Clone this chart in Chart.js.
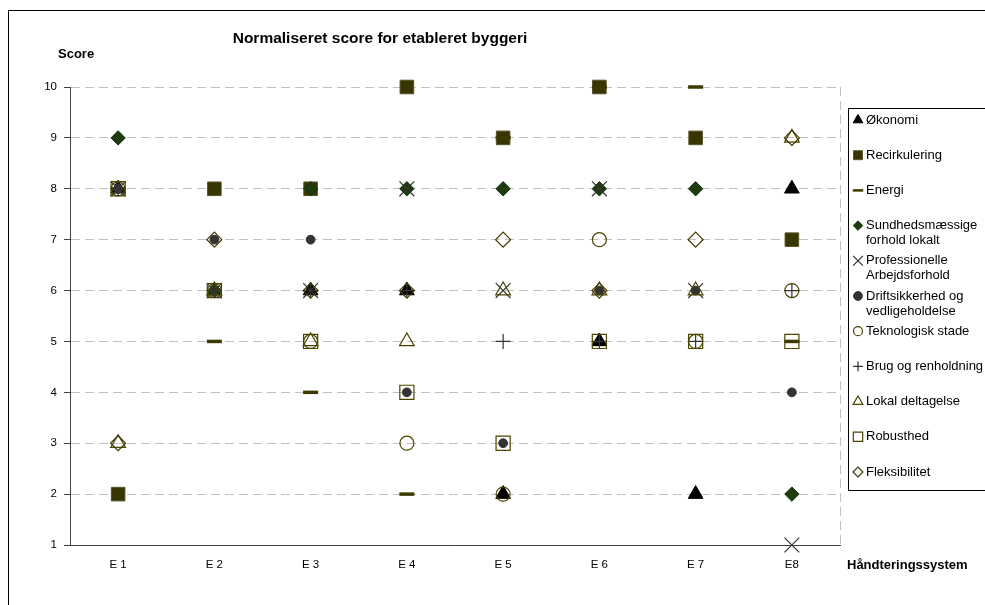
<!DOCTYPE html>
<html>
<head>
<meta charset="utf-8">
<script src="https://cdn.jsdelivr.net/npm/chart.js@4/dist/chart.umd.min.js"></script>
<style>
  html, body { margin: 0; padding: 0; background: #ffffff; }
  #wrap { width: 985px; height: 605px; position: relative; }
</style>
</head>
<body>
<div id="wrap"><canvas id="c" width="985" height="605"></canvas></div>
<script>
// Handling systems on the x axis
const categories = ['E 1', 'E 2', 'E 3', 'E 4', 'E 5', 'E 6', 'E 7', 'E8'];

// Normalised score per criterion, one value per handling system
const okonomi        = [8, 6, 6, 6, 2, 5, 2, 8];
const recirkulering  = [2, 8, 8, 10, 9, 10, 9, 7];
const energi         = [8, 5, 4, 2, 9, 10, 10, 5];
const sundhed        = [9, 6, 8, 8, 8, 8, 8, 2];
const professionelle = [8, 6, 6, 8, 6, 8, 6, 1];
const driftsikkerhed = [8, 7, 7, 4, 3, 6, 6, 4];
const teknologisk    = [8, 6, 5, 3, 2, 7, 5, 6];
const brug           = [8, 6, 6, 6, 5, 5, 5, 6];
const lokal          = [3, 6, 5, 5, 6, 6, 6, 9];
const robusthed      = [8, 6, 5, 4, 3, 5, 5, 5];
const fleksibilitet  = [3, 7, 6, 6, 7, 6, 7, 9];

// Axis range and tick labels
const yMin = 1;
const yMax = 10;
const yTickStep = 1;

const FONT = "'Liberation Sans', Arial, sans-serif";

// Marker look for every criterion
const series = [
  { label: ['Økonomi'], data: okonomi, style: 'triangle', r: 8.5, bg: '#000000', bc: '#000000', bw: 1 },
  { label: ['Recirkulering'], data: recirkulering, style: 'rect', r: 9.6, bg: '#383500', bc: '#55532a', bw: 1 },
  { label: ['Energi'], data: energi, style: 'line', r: 7.5, bg: '#3d3a00', bc: '#3d3a00', bw: 3.5 },
  { label: ['Sundhedsmæssige', 'forhold lokalt'], data: sundhed, style: 'rectRot', r: 7.2, bg: '#1f3a0c', bc: '#0f3a0f', bw: 1 },
  { label: ['Professionelle', 'Arbejdsforhold'], data: professionelle, style: 'crossRot', r: 10.5, bg: 'rgba(0,0,0,0)', bc: '#333333', bw: 1.2 },
  { label: ['Driftsikkerhed og', 'vedligeholdelse'], data: driftsikkerhed, style: 'circle', r: 4.4, bg: '#333333', bc: '#333333', bw: 1 },
  { label: ['Teknologisk stade'], data: teknologisk, style: 'circle', r: 7, bg: 'rgba(0,0,0,0)', bc: '#4a4500', bw: 1.2 },
  { label: ['Brug og renholdning'], data: brug, style: 'cross', r: 7.5, bg: 'rgba(0,0,0,0)', bc: '#333333', bw: 1.2 },
  { label: ['Lokal deltagelse'], data: lokal, style: 'triangle', r: 8.5, bg: 'rgba(0,0,0,0)', bc: '#4a4500', bw: 1.2 },
  { label: ['Robusthed'], data: robusthed, style: 'rect', r: 10, bg: 'rgba(0,0,0,0)', bc: '#4a4500', bw: 1.2 },
  { label: ['Fleksibilitet'], data: fleksibilitet, style: 'rectRot', r: 7.5, bg: 'rgba(0,0,0,0)', bc: '#3d3a00', bw: 1.2 }
];

const datasets = series.map((s, i) => ({
  label: s.label.join(' '),
  legendLines: s.label,
  data: s.data,
  showLine: false,
  order: -i,
  clip: false,
  pointStyle: s.style,
  pointRadius: s.r,
  pointHoverRadius: s.r,
  pointBackgroundColor: s.bg,
  pointBorderColor: s.bc,
  pointBorderWidth: s.bw,
  pointHoverBorderWidth: s.bw,
  backgroundColor: s.bg,
  borderColor: s.bc
}));

// Frame, titles, plot border and legend box
const decorations = {
  id: 'decorations',
  beforeDraw(chart) {
    const ctx = chart.ctx;
    ctx.save();
    ctx.fillStyle = '#ffffff';
    ctx.fillRect(0, 0, chart.width, chart.height);
    ctx.strokeStyle = '#000000';
    ctx.lineWidth = 1;
    ctx.strokeRect(8.5, 10.5, chart.width + 20, chart.height + 20);
    ctx.restore();
  },
  beforeDatasetsDraw(chart) {
    const ctx = chart.ctx;
    const a = chart.chartArea;
    ctx.save();
    ctx.strokeStyle = '#c0c0c0';
    ctx.lineWidth = 1;
    ctx.setLineDash([9, 5]);
    ctx.beginPath();
    ctx.moveTo(Math.round(a.right) + 0.5, a.top);
    ctx.lineTo(Math.round(a.right) + 0.5, a.bottom);
    ctx.stroke();
    ctx.restore();
  },
  afterDraw(chart) {
    const ctx = chart.ctx;
    const a = chart.chartArea;
    ctx.save();
    ctx.fillStyle = '#000000';
    ctx.textBaseline = 'alphabetic';

    ctx.font = 'bold 15.5px ' + FONT;
    ctx.textAlign = 'center';
    ctx.fillText('Normaliseret score for etableret byggeri', 380, 43);

    ctx.font = 'bold 13px ' + FONT;
    ctx.textAlign = 'left';
    ctx.fillText('Score', 58, 58);
    ctx.fillText('Håndteringssystem', a.right + 7, 569);

    // legend
    const boxLeft = 848.5, boxTop = 108.5, boxBottom = 490.5;
    ctx.strokeStyle = '#000000';
    ctx.lineWidth = 1;
    ctx.strokeRect(boxLeft, boxTop, 300, boxBottom - boxTop);

    const rowStart = 120;
    const rowStep = 35.2;
    ctx.font = '13px ' + FONT;
    chart.data.datasets.forEach((ds, i) => {
      const y = rowStart + i * rowStep;
      const mx = 858;
      ctx.save();
      ctx.fillStyle = ds.pointBackgroundColor;
      ctx.strokeStyle = ds.pointBorderColor;
      ctx.lineWidth = ds.pointStyle === 'line' ? 2.5 : ds.pointBorderWidth;
      const scale = ds.pointStyle === 'circle' && ds.pointRadius < 5 ? 1.0 : 0.66;
      let r = ds.pointRadius * scale;
      if (ds.pointStyle === 'circle' && ds.pointRadius >= 5) r = 4.5;
      if (ds.pointStyle === 'line') r = 5.2;
      Chart.helpers.drawPoint(ctx, {
        pointStyle: ds.pointStyle,
        radius: r,
        rotation: 0,
        borderWidth: ctx.lineWidth
      }, mx, y);
      ctx.restore();
      ctx.fillStyle = '#000000';
      ctx.textAlign = 'left';
      ctx.textBaseline = 'middle';
      ds.legendLines.forEach((line, k) => {
        ctx.fillText(line, 866, y + k * 15);
      });
    });
    ctx.restore();
  }
};

new Chart(document.getElementById('c'), {
  type: 'line',
  data: { labels: categories, datasets },
  options: {
    responsive: false,
    animation: false,
    devicePixelRatio: 1,
    layout: { padding: { left: 0, top: 87, right: 145, bottom: 0 } },
    plugins: {
      legend: { display: false },
      title: { display: false },
      tooltip: { enabled: false }
    },
    scales: {
      x: {
        type: 'category',
        offset: true,
        grid: { display: false, drawTicks: false },
        border: { display: true, color: '#404040', width: 1 },
        ticks: { color: '#000000', font: { family: FONT, size: 11.5 }, padding: 13, maxRotation: 0 },
        afterFit(scale) { scale.height = 60; }
      },
      y: {
        min: yMin,
        max: yMax,
        grid: {
          color: '#c0c0c0',
          lineWidth: 1,
          drawTicks: true,
          tickLength: 6,
          tickColor: '#404040',
          tickWidth: 1,
          tickBorderDash: []
        },
        border: { display: true, color: '#404040', width: 1, dash: [9, 5] },
        ticks: { stepSize: yTickStep, color: '#000000', font: { family: FONT, size: 11.5 }, padding: 7 },
        afterFit(scale) { scale.width = 70; }
      }
    }
  },
  plugins: [decorations]
});
</script>
</body>
</html>
